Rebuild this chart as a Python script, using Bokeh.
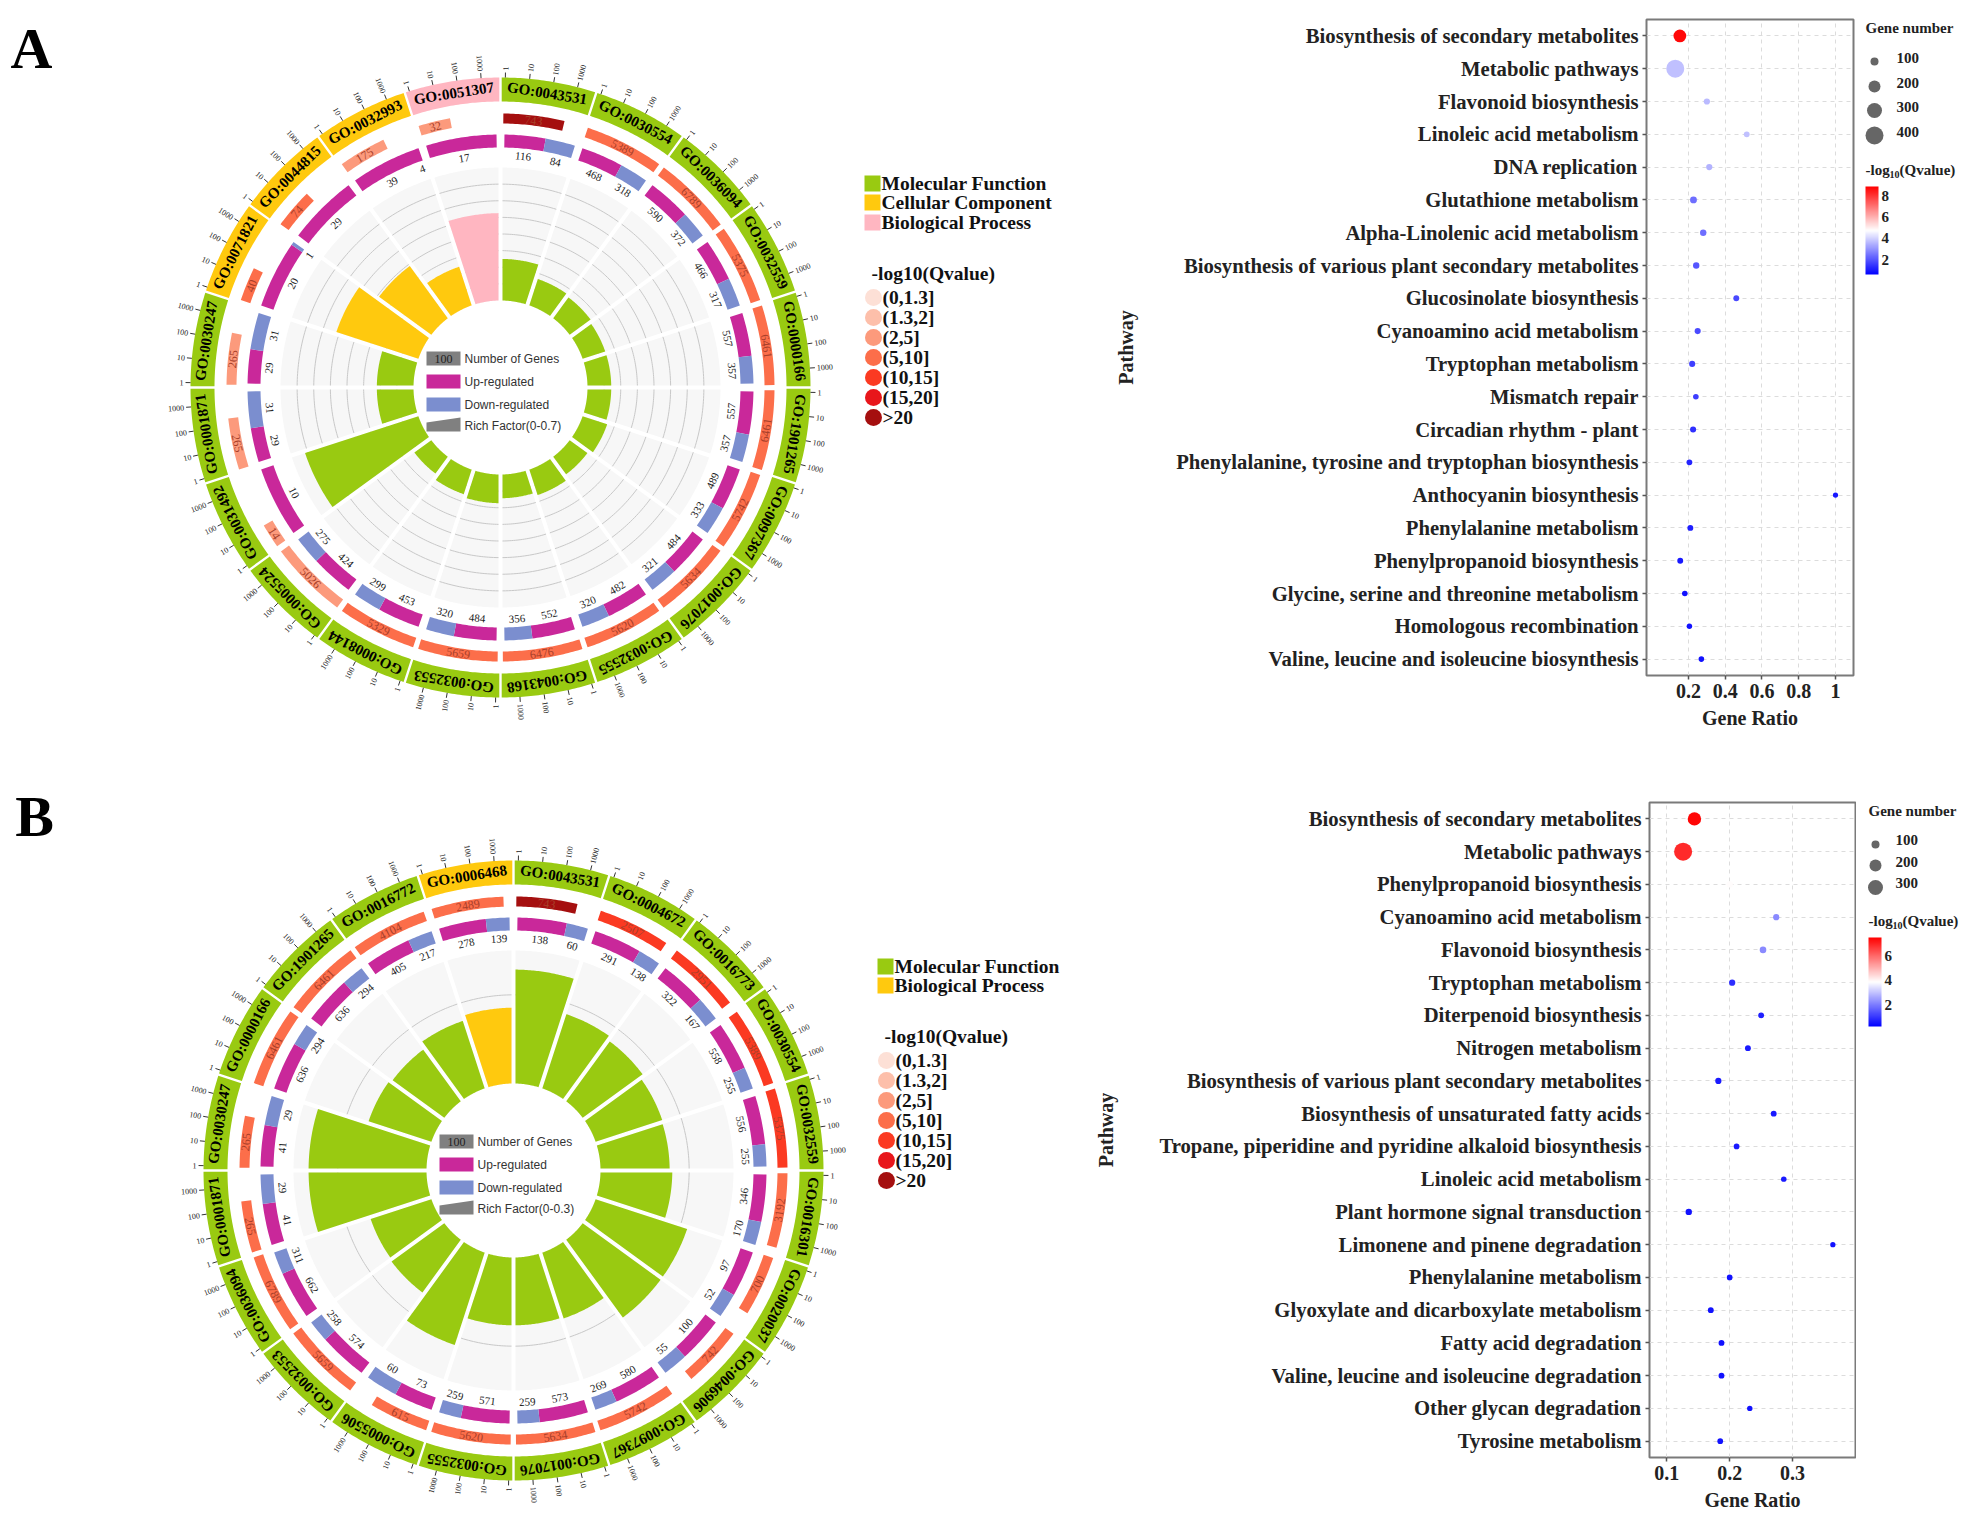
import math
from bokeh.plotting import figure
from bokeh.layouts import column, row
from bokeh.models import Range1d, FactorRange, ColumnDataSource, FixedTicker, ColorBar, LinearColorMapper
from bokeh.core.properties import value
from bokeh.embed import file_html
from bokeh.resources import INLINE

# ---------- DATA ----------
a_go = ["GO:0043531","GO:0030554","GO:0036094","GO:0032559","GO:0000166","GO:1901265","GO:0097367","GO:0017076","GO:0032555","GO:0043168",
        "GO:0032553","GO:0008144","GO:0005524","GO:0031492","GO:0001871","GO:0030247","GO:0071821","GO:0044815","GO:0032993","GO:0051307"]
a_kind = ["M"]*16 + ["C"]*3 + ["B"]
a_genes = [743,5389,6789,5375,6461,6461,5742,5634,5620,6476,5659,5329,5026,14,265,265,40,74,175,32]
a_qclass = [6,3,3,3,3,3,3,3,3,3,3,3,2,2,2,2,3,3,2,2]
a_up = [116,468,590,466,557,557,489,484,482,552,484,453,424,10,29,29,20,29,39,17]
a_down = [84,318,372,317,357,357,333,321,320,356,320,299,275,0,31,31,1,0,4,0]
a_down_bar = [84,318,372,317,357,357,333,321,320,356,320,299,275,0,31,31,1,0,0,0]
a_rich = [.219,.146,.136,.125,.125,.125,.136,.115,.141,.125,.151,.136,.11,.627,.193,.193,.454,.34,.214,.46]

b_go = ["GO:0043531","GO:0004672","GO:0016773","GO:0030554","GO:0032559","GO:0016301","GO:0020037","GO:0046906","GO:0097367","GO:0017076",
        "GO:0032555","GO:0005506","GO:0032553","GO:0036094","GO:0001871","GO:0030247","GO:0000166","GO:1901265","GO:0016772","GO:0006468"]
b_kind = ["M"]*19 + ["C"]
b_genes = [743,2507,2951,5389,5375,3192,700,742,5742,5634,5620,615,5659,6789,265,265,6461,6461,4104,2489]
b_qclass = [6,4,4,4,4,3,3,3,3,3,3,3,3,3,3,3,3,3,3,3]
b_up = [138,291,322,558,556,346,97,100,580,573,571,73,574,662,41,41,636,636,405,278]
b_down = [60,138,167,255,255,170,52,55,269,259,259,60,258,311,29,29,294,294,217,139]
b_rich = [.257,.176,.167,.158,.156,.162,.217,.217,.156,.153,.153,.219,.147,.144,.266,.266,.149,.144,.16,.171]

q_labels = ["(0,1.3]","(1.3,2]","(2,5]","(5,10]","(10,15]","(15,20]",">20"]
q_colors = ["#fde0d6","#fdbfaa","#fc9a7c","#fc6e4a","#fb3a22","#e8161b","#a50f0f"]
tick_labels = ["1","10","100","1000"]

a_path = ["Biosynthesis of secondary metabolites","Metabolic pathways","Flavonoid biosynthesis","Linoleic acid metabolism","DNA replication",
          "Glutathione metabolism","Alpha-Linolenic acid metabolism","Biosynthesis of various plant secondary metabolites","Glucosinolate biosynthesis",
          "Cyanoamino acid metabolism","Tryptophan metabolism","Mismatch repair","Circadian rhythm - plant","Phenylalanine, tyrosine and tryptophan biosynthesis",
          "Anthocyanin biosynthesis","Phenylalanine metabolism","Phenylpropanoid biosynthesis","Glycine, serine and threonine metabolism",
          "Homologous recombination","Valine, leucine and isoleucine biosynthesis"]
a_ratio = [.153,.128,.30,.517,.313,.227,.28,.242,.46,.25,.22,.24,.225,.205,1.0,.21,.155,.18,.205,.27]
a_q = [8.7,3.7,3.6,3.7,3.5,2.4,2.4,2.0,1.8,1.8,1.6,1.6,1.4,1.2,1.0,1.1,1.0,0.9,0.9,0.9]
a_n = [250,420,40,25,40,60,45,45,30,35,35,20,35,25,8,30,30,20,15,20]

b_path = ["Biosynthesis of secondary metabolites","Metabolic pathways","Phenylpropanoid biosynthesis","Cyanoamino acid metabolism","Flavonoid biosynthesis",
          "Tryptophan metabolism","Diterpenoid biosynthesis","Nitrogen metabolism","Biosynthesis of various plant secondary metabolites",
          "Biosynthesis of unsaturated fatty acids","Tropane, piperidine and pyridine alkaloid biosynthesis","Linoleic acid metabolism",
          "Plant hormone signal transduction","Limonene and pinene degradation","Phenylalanine metabolism","Glyoxylate and dicarboxylate metabolism",
          "Fatty acid degradation","Valine, leucine and isoleucine degradation","Other glycan degradation","Tyrosine metabolism"]
b_ratio = [.144,.126,.2,.274,.253,.204,.25,.229,.182,.27,.211,.286,.135,.364,.2,.17,.187,.187,.232,.185]
b_q = [7.4,6.9,3.9,2.2,2.2,0.9,0.7,0.6,0.6,0.6,0.6,0.6,0.5,0.5,0.5,0.5,0.5,0.5,0.5,0.5]
b_n = [240,370,40,35,45,35,25,25,35,25,20,15,40,8,20,25,25,25,12,20]

SERIF = "Liberation Serif"
SANS = "Liberation Sans"
GREEN, YELLOW, PINK = "#99ca11", "#ffc90e", "#ffb6c1"
MAGENTA, BLUE = "#c9289a", "#7b8ecf"
KIND = {"M": GREEN, "C": YELLOW, "B": PINK}


def pol(r, t):
    a = math.radians(t)
    return r * math.sin(a), r * math.cos(a)


def sector(r0, r1, t0, t1, g0=0.0, g1=0.0):
    n = max(4, int(abs(t1 - t0) * 2))
    xs, ys = [], []
    for i in range(n + 1):
        ti = t0 + math.degrees(math.asin(g0 / r1)) + (t1 - t0 - math.degrees(math.asin(g0 / r1) + math.asin(g1 / r1))) * i / n
        x, y = pol(r1, ti); xs.append(x); ys.append(y)
    for i in range(n + 1):
        ti = t1 - math.degrees(math.asin(g1 / r0)) - (t1 - t0 - math.degrees(math.asin(g0 / r0) + math.asin(g1 / r0))) * i / n
        x, y = pol(r0, ti); xs.append(x); ys.append(y)
    return xs, ys


def patches(p, items):
    p.patches(xs=[i[0] for i in items], ys=[i[1] for i in items], fill_color=[i[2] for i in items], line_color=None)


def texts(p, xs, ys, txt, angles=None, size="11px", font=SERIF, style="normal", color="#222222", align="center", base="middle"):
    src = ColumnDataSource(dict(x=xs, y=ys, t=txt, a=angles if angles else [0.0] * len(xs)))
    p.text("x", "y", "t", angle="a", angle_units="rad", source=src, text_font=value(font), text_font_size=value(size),
           text_font_style=style, text_color=color, text_align=align, text_baseline=base)


def flip(t):
    return 180 - t if 90 < t < 270 else -t


def circos(W, H, cx, cy, left, top, go, kind, genes, qclass, up, down, down_bar, rich, rich_max, grid_vals, legend_rich, legend_keys, legend_pos, q_pos, letter, letter_pos):
    p = figure(width=W, height=H, x_range=Range1d(left - cx, left + W - cx), y_range=Range1d(cy - top - H, cy - top),
               output_backend="svg", toolbar_location=None, min_border=0, x_axis_type=None, y_axis_type=None, outline_line_color=None)
    p.xgrid.visible = False
    p.ygrid.visible = False
    R0, R1 = 87.0, 220.0
    step = 18.0
    panels, bars, outer, qring, ud = [], [], [], [], []
    for i in range(20):
        t0, t1 = i * step, (i + 1) * step
        xs, ys = sector(R0, R1, t0, t1, 2.0, 2.0)
        panels.append((xs, ys, "#f7f7f7"))
        r = R0 + (R1 - R0) * rich[i] / rich_max
        xs, ys = sector(R0, r, t0, t1, 2.0, 2.0)
        bars.append((xs, ys, KIND[kind[i]]))
        xs, ys = sector(286, 310, t0, t1, 1.2, 1.2)
        outer.append((xs, ys, KIND[kind[i]]))
        qend = t0 + 0.6 + 4.5 * math.log10(genes[i])
        xs, ys = sector(264, 274, t0 + 0.6, min(qend, t1 - 0.5))
        qring.append((xs, ys, q_colors[qclass[i]]))
        a0, a1 = t0 + 0.9, t1 - 0.9
        mid = a0 + (a1 - a0) * up[i] / (up[i] + down_bar[i])
        xs, ys = sector(240, 253, a0, mid)
        ud.append((xs, ys, MAGENTA))
        if down_bar[i]:
            xs, ys = sector(240, 253, mid, a1)
            ud.append((xs, ys, BLUE))
    patches(p, panels)
    gx, gy = [], []
    for g in grid_vals:
        r = R0 + (R1 - R0) * g / rich_max
        for i in range(20):
            a = i * step + math.degrees(math.asin(2.0 / r))
            b = (i + 1) * step - math.degrees(math.asin(2.0 / r))
            pts = [pol(r, a + (b - a) * k / 20) for k in range(21)]
            gx.append([q[0] for q in pts]); gy.append([q[1] for q in pts])
    p.multi_line(gx, gy, line_color="#c8c8c8", line_width=1)
    patches(p, bars)
    patches(p, outer)
    patches(p, qring)
    patches(p, ud)

    x, y, tx, an = [], [], [], []
    for i in range(20):
        t = (i + 0.5) * step
        a, b = pol(298, t)
        x.append(a); y.append(b); tx.append(go[i]); an.append(math.radians(-t))
    texts(p, x, y, tx, an, size="15px", style="bold", color="#000000")

    x, y, tx, an = [], [], [], []
    for i in range(20):
        t0 = i * step + 0.6
        t = t0 + 2.25 * math.log10(genes[i])
        a, b = pol(269, t)
        x.append(a); y.append(b); tx.append(str(genes[i])); an.append(math.radians(flip(t)))
    texts(p, x, y, tx, an, size="12px", color="#a8402a")

    x, y, tx, an = [], [], [], []
    for i in range(20):
        a0, a1 = i * step + 0.9, (i + 1) * step - 0.9
        mid = a0 + (a1 - a0) * up[i] / (up[i] + down[i])
        t = (a0 + mid) / 2
        a, b = pol(232, t)
        x.append(a); y.append(b); tx.append(str(up[i])); an.append(math.radians(flip(t)))
        if down[i]:
            t = (mid + a1) / 2
            a, b = pol(232, t)
            x.append(a); y.append(b); tx.append(str(down[i])); an.append(math.radians(flip(t)))
    texts(p, x, y, tx, an, size="11px", color="#222222")

    sx0, sy0, sx1, sy1 = [], [], [], []
    rx, ry, rt, ra, lx, ly, lt, la = [], [], [], [], [], [], [], []
    for i in range(20):
        for k, lab in enumerate(tick_labels):
            t = i * step + 0.9 + 4.5 * k
            a, b = pol(310, t); c, d = pol(315, t)
            sx0.append(a); sy0.append(b); sx1.append(c); sy1.append(d)
            a, b = pol(317, t)
            if t <= 180:
                rx.append(a); ry.append(b); rt.append(lab); ra.append(math.radians(90 - t))
            else:
                lx.append(a); ly.append(b); lt.append(lab); la.append(math.radians(270 - t))
    p.segment(sx0, sy0, sx1, sy1, line_color="#333333", line_width=1)
    texts(p, rx, ry, rt, ra, size="8px", color="#222222", align="left")
    texts(p, lx, ly, lt, la, size="8px", color="#222222", align="right")

    p.quad(left=[-74], right=[-40], top=[36], bottom=[22], fill_color="#808080", line_color=None)
    texts(p, [-57], [29], ["100"], size="12px", color="#222222")
    p.quad(left=[-74], right=[-40], top=[13], bottom=[-1], fill_color=MAGENTA, line_color=None)
    p.quad(left=[-74], right=[-40], top=[-10], bottom=[-24], fill_color=BLUE, line_color=None)
    p.patch([-74, -40, -40, -74], [-35, -30, -44, -44], fill_color="#808080", line_color=None)
    texts(p, [-36] * 4, [29, 6, -17, -38], ["Number of Genes", "Up-regulated", "Down-regulated", legend_rich], size="12px", font=SANS, color="#333333", align="left")

    lx0, ly_list = legend_pos
    for (txt, col), yy in zip(legend_keys, ly_list):
        p.quad(left=[lx0 - cx], right=[lx0 + 16 - cx], top=[cy - yy + 8], bottom=[cy - yy - 8], fill_color=col, line_color=None)
        texts(p, [lx0 + 17 - cx], [cy - yy], [txt], size="19.5px", style="bold", color="#111111", align="left")
    qx, qtitle_y, qy0, qdy = q_pos
    texts(p, [qx - 1 - cx], [cy - qtitle_y], ["-log10(Qvalue)"], size="19.5px", style="bold", color="#111111", align="left")
    p.scatter([qx - cx + 1] * 7, [cy - (qy0 + qdy * k) for k in range(7)], size=17, fill_color=q_colors, line_color=None)
    texts(p, [qx + 10 - cx] * 7, [cy - (qy0 + qdy * k) for k in range(7)], q_labels, size="19.5px", style="bold", color="#111111", align="left")
    texts(p, [letter_pos[0] - cx], [cy - letter_pos[1]], [letter], size="58px", style="bold", color="#000000")
    return p


def blue_white_red(n=256):
    out = []
    for i in range(n):
        f = i / (n - 1)
        if f < .5:
            c = int(round(255 * f * 2)); out.append("#%02x%02xff" % (c, c))
        else:
            c = int(round(255 * (1 - f) * 2)); out.append("#ff%02x%02x" % (c, c))
    return out


def dots(W, H, top, bottom, left, right, path, ratio, q, n, xlim, ticks, ov, low, high, standoff, sizes):
    p = figure(width=W, height=H, x_range=Range1d(*xlim), y_range=FactorRange(factors=path[::-1]),
               output_backend="svg", toolbar_location=None, min_border_top=top, min_border_bottom=bottom, min_border_left=left, min_border_right=right)
    mapper = LinearColorMapper(palette=blue_white_red(), low=low, high=high)
    src = ColumnDataSource(dict(x=ratio, y=path, q=q, s=sizes(n)))
    p.xgrid.grid_line_color = "#dcdcdc"; p.xgrid.grid_line_dash = "4 4"
    p.ygrid.grid_line_color = "#dcdcdc"; p.ygrid.grid_line_dash = "4 4"
    p.scatter("x", "y", size="s", source=src, fill_color={"field": "q", "transform": mapper}, line_color=None)
    p.outline_line_color = "#7a7a7a"; p.outline_line_width = 2
    p.xaxis.ticker = FixedTicker(ticks=ticks)
    p.xaxis.major_label_overrides = ov
    for ax in (p.xaxis[0], p.yaxis[0]):
        ax.axis_line_color = None
        ax.major_tick_line_color = "#555555"
        ax.major_tick_line_width = 1.5
        ax.major_tick_in = 0
        ax.major_tick_out = 4
        ax.minor_tick_line_color = None
        ax.major_label_text_font = SERIF
        ax.major_label_text_font_style = "bold"
        ax.major_label_text_color = "#222222"
        ax.axis_label_text_font = SERIF
        ax.axis_label_text_font_style = "bold"
        ax.axis_label_text_color = "#222222"
    p.xaxis.major_label_text_font_size = "20px"
    p.yaxis.major_label_text_font_size = "20.7px"
    p.xaxis.axis_label = "Gene Ratio"
    p.yaxis.axis_label = "Pathway"
    p.xaxis.axis_label_text_font_size = "20px"
    p.yaxis.axis_label_text_font_size = "20px"
    p.xaxis.axis_label_standoff = 6
    p.yaxis.axis_label_standoff = standoff
    p.yaxis.major_label_standoff = 4
    p.xaxis.major_label_standoff = 4
    return p, mapper


def legend_fig(W, H, left, top, mapper, counts, leg_title_y, cx, cys, ds, lab_x, lab_ys, title2_y, x0, bar_x, bar_top, bar_h, ticks):
    p = figure(width=W, height=H, x_range=Range1d(left, left + W), y_range=Range1d(top + H, top),
               output_backend="svg", toolbar_location=None, min_border=0, x_axis_type=None, y_axis_type=None, outline_line_color=None)
    p.xgrid.visible = False; p.ygrid.visible = False
    texts(p, [x0], [leg_title_y], ["Gene number"], size="15px", style="bold", align="left", color="#222222")
    p.scatter([cx] * len(cys), cys, size=ds, fill_color="#666666", line_color=None)
    texts(p, [lab_x] * len(counts), lab_ys, [str(c) for c in counts], size="15px", style="bold", align="left", color="#222222")
    texts(p, [x0], [title2_y], ["-log"], size="15px", style="bold", align="left", color="#222222")
    texts(p, [x0 + 24], [title2_y + 5], ["10"], size="10px", style="bold", align="left", color="#222222")
    texts(p, [x0 + 34], [title2_y], ["(Qvalue)"], size="15px", style="bold", align="left", color="#222222")
    cb = ColorBar(color_mapper=mapper, ticker=FixedTicker(ticks=ticks), location=(bar_x - left, H - (bar_top - top) - bar_h), width=13, height=bar_h,
                  padding=0, margin=0, bar_line_color=None, major_tick_line_color=None, minor_tick_line_color=None,
                  major_label_text_font=SERIF, major_label_text_font_style="bold", major_label_text_font_size="15px",
                  major_label_text_color="#222222", label_standoff=3, background_fill_color=None, border_line_color=None)
    p.add_layout(cb, "center")
    return p


size_a = lambda n: [5 + 13 * (v / 420) for v in n]
size_b = lambda n: [5 + 13 * (v / 370) for v in n]

TOP_A, TOP_B = 0, 770
HA, HB = 770, 749
WL = 118
WC_A, WD_A = 1100, 756
WC_B, WD_B = 1085, 771

circ_a = circos(WC_A, HA, 500, 387, 0, TOP_A, a_go, a_kind, a_genes, a_qclass, a_up, a_down, a_down_bar, a_rich, 0.7,
                [0.0875 * k for k in range(1, 8)], "Rich Factor(0-0.7)",
                [("Molecular Function", GREEN), ("Cellular Component", YELLOW), ("Biological Process", PINK)],
                (864, [183, 202, 222]), (872, 273, 297, 20), "A", (31, 48))
circ_b = circos(WC_B, HB, 513, 1170, 0, TOP_B, b_go, b_kind, b_genes, b_qclass, b_up, b_down, b_down, b_rich, 0.3,
                [0.2], "Rich Factor(0-0.3)",
                [("Molecular Function", GREEN), ("Biological Process", YELLOW)],
                (877, [966, 985]), (885, 1036, 1060, 20), "B", (34, 816))

dot_a, map_a = dots(WD_A, HA, 19, 95, 546, 3, a_path, a_ratio, a_q, a_n, (-0.0286, 1.098), [.2, .4, .6, .8, 1], {1: "1"}, 0.6, 8.85, 36, size_a)
dot_b, map_b = dots(WD_B, HB, 32, 62, 564, 1, b_path, b_ratio, b_q, b_n, (0.0726, 0.4), [.1, .2, .3], {}, 0.23, 7.5, 39, size_b)

leg_a = legend_fig(WL, HA, 1856, TOP_A, map_a, [100, 200, 300, 400], 27, 1874, [61, 86, 110, 135], [8, 12, 15, 18], 1896, [57, 82, 106, 131], 169, 1865, 1865, 186, 88, [2, 4, 6, 8])
leg_b = legend_fig(WL, HB, 1856, TOP_B, map_b, [100, 200, 300], 810, 1875, [844, 865, 887], [8, 12, 15], 1895, [839, 861, 882], 920, 1868, 1868, 937, 89, [2, 4, 6])

page = column(row(column(circ_a), column(dot_a), column(leg_a)), row(column(circ_b), column(dot_b), column(leg_b)))
open("out.html", "w").write(file_html(page, INLINE))
